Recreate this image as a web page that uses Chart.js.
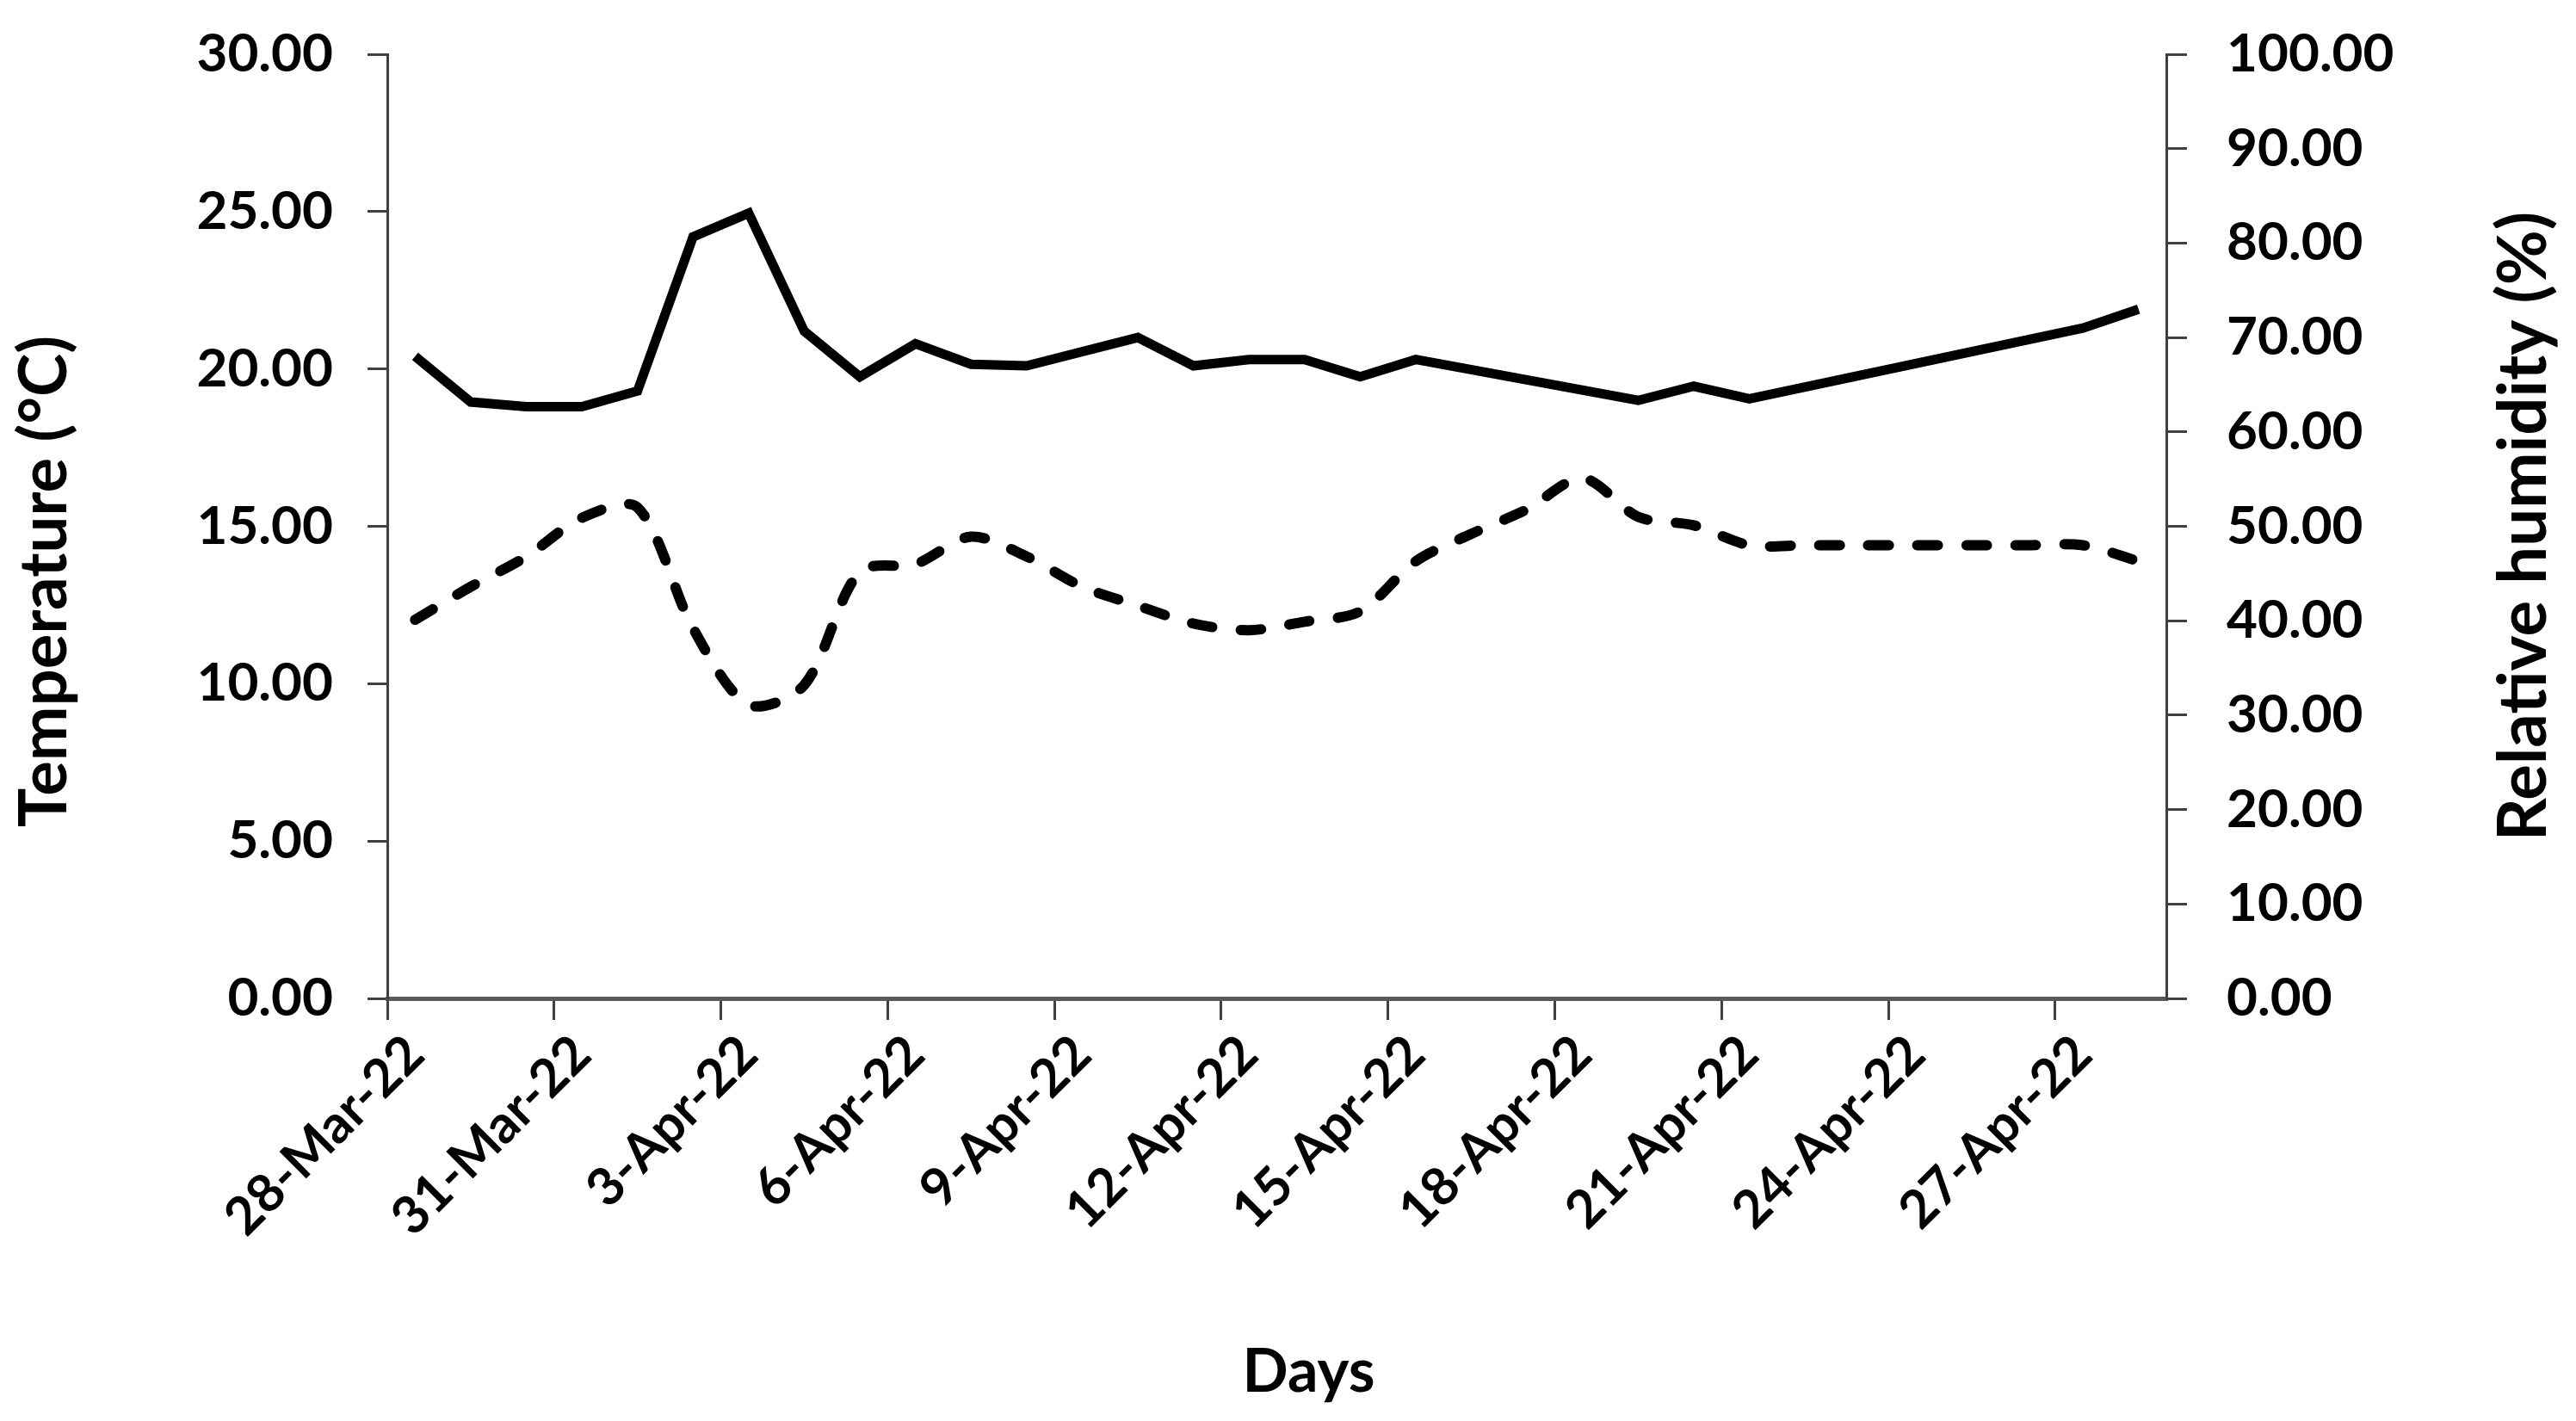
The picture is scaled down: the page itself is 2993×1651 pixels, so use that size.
<!DOCTYPE html>
<html>
<head>
<meta charset="utf-8">
<script src="https://cdn.jsdelivr.net/npm/chart.js@4.4.1/dist/chart.umd.min.js"></script>
<style>
  html, body { margin: 0; padding: 0; background: #fff; }
  #wrap { width: 2993px; height: 1651px; }
</style>
</head>
<body>
<div id="wrap"><canvas id="grafico"></canvas></div>
<script>
// dados -----------------------------------------
var dias = [
  "28-Mar-22", "29-Mar-22", "30-Mar-22", "31-Mar-22",
  "1-Apr-22", "2-Apr-22", "3-Apr-22", "4-Apr-22", "5-Apr-22", "6-Apr-22",
  "7-Apr-22", "8-Apr-22", "9-Apr-22", "10-Apr-22", "11-Apr-22", "12-Apr-22",
  "13-Apr-22", "14-Apr-22", "15-Apr-22", "16-Apr-22", "17-Apr-22", "18-Apr-22",
  "19-Apr-22", "20-Apr-22", "21-Apr-22", "22-Apr-22", "23-Apr-22", "24-Apr-22",
  "25-Apr-22", "26-Apr-22", "27-Apr-22", "28-Apr-22"
];

// temperatura (°C) - null onde a linha segue reta sem vértice
var temperatura = [
  20.4, 18.95, 18.8, 18.8, 19.3, 24.2, 24.95, 21.2, 19.75, 20.8,
  20.15, 20.1, null, 21.0, 20.1, 20.3, 20.3, 19.75, 20.3, null,
  null, null, 19.0, 19.45, 19.05, null, null, null, null, null,
  21.3, 21.9
];

// umidade relativa (%)
var umidade = [
  40.1, 43.6, 46.8, 50.9, 52.0, 39.2, 31.1, 33.2, 45.2, 46.0,
  48.9, 46.8, 43.6, 41.6, 39.7, 39.0, 39.9, 41.0, 46.3, 49.2,
  51.8, 55.1, 51.0, 50.1, 48.0, 48.0, 48.0, 48.0, 48.0, 48.0,
  48.0, 46.3
];

var ticksTemp = { min: 0, max: 30, passo: 5 };
var ticksUmid = { min: 0, max: 100, passo: 10 };

var tituloX = "Days";
var tituloY = "Temperature (°C)";
var tituloY1 = "Relative humidity (%)";

// estilo ---------------------------------------
var fonte = "Lato, 'Open Sans', sans-serif";
var corEixo = "#404040";

// títulos dos eixos desenhados à mão (posição/rotação do original)
function textoGirado(c, texto, x, y, tam) {
  c.save();
  c.fillStyle = "#000";
  c.font = "bold " + tam + "px " + fonte;
  c.textAlign = "center";
  c.textBaseline = "middle";
  c.translate(x, y);
  c.rotate(-Math.PI / 2);
  c.fillText(texto, 0, 0);
  c.restore();
}

var titulosExtras = {
  id: "titulosExtras",
  afterDraw: function (chart) {
    var c = chart.ctx;
    var area = chart.chartArea;
    var meio = (area.top + area.bottom) / 2;

    textoGirado(c, tituloY, chart.scales.y.left + 52, meio + 64, 76);
    textoGirado(c, tituloY1, chart.scales.y1.right - 60, meio, 78);

    c.save();
    c.fillStyle = "#000";
    c.font = "bold 70px " + fonte;
    c.textAlign = "center";
    c.textBaseline = "alphabetic";
    c.fillText(tituloX, (area.left + area.right) / 2 + 37, chart.height - 34);
    c.restore();
  }
};

// sem folga extra do Chart.js acima/abaixo dos eixos verticais
function larguraEixo(w) {
  return function (s) {
    s.width = w;
    s.paddingTop = 0;
    s.paddingBottom = 0;
  };
}

var ctx = document.getElementById("grafico");

new Chart(ctx, {
  type: "line",
  data: {
    labels: dias,
    datasets: [
      {
        label: "Temperature",
        data: temperatura,
        yAxisID: "y",
        borderColor: "#000",
        borderWidth: 11,
        borderJoinStyle: "miter",
        pointRadius: 0,
        tension: 0,
        spanGaps: true
      },
      {
        label: "Relative humidity",
        data: umidade,
        yAxisID: "y1",
        borderColor: "#000",
        borderWidth: 12,
        borderDash: [24, 33],
        borderCapStyle: "round",
        pointRadius: 0,
        tension: 0.3
      }
    ]
  },
  plugins: [titulosExtras],
  options: {
    responsive: true,
    maintainAspectRatio: false,
    animation: false,
    devicePixelRatio: 1,
    layout: { padding: { top: 63, left: 0, right: 0, bottom: 0 } },
    plugins: {
      legend: { display: false },
      tooltip: { enabled: false }
    },
    scales: {
      x: {
        type: "category",
        offset: true,
        afterFit: function (s) { s.height = 491; },
        grid: {
          offset: true,
          drawOnChartArea: false,
          drawTicks: true,
          tickLength: 25,
          lineWidth: 3,
          color: function (c) { return c.index % 3 === 0 ? corEixo : "rgba(0,0,0,0)"; }
        },
        border: { display: true, color: "#595959", width: 5 },
        ticks: {
          autoSkip: false,
          maxRotation: 45,
          minRotation: 45,
          padding: 4,
          color: "#000",
          font: { family: fonte, size: 61, weight: "bold" },
          callback: function (v, i) { return i % 3 === 0 ? dias[i] : ""; }
        },
        title: { display: false }
      },
      y: {
        position: "left",
        min: ticksTemp.min,
        max: ticksTemp.max,
        afterFit: larguraEixo(450),
        grid: {
          drawOnChartArea: false,
          tickLength: 23,
          lineWidth: 3,
          color: corEixo
        },
        border: { display: true, color: corEixo, width: 3 },
        ticks: {
          stepSize: ticksTemp.passo,
          padding: 40,
          color: "#000",
          font: { family: fonte, size: 62, weight: "bold" },
          callback: function (v) { return v.toFixed(2); }
        },
        title: { display: false }
      },
      y1: {
        position: "right",
        min: ticksUmid.min,
        max: ticksUmid.max,
        afterFit: larguraEixo(476),
        grid: {
          drawOnChartArea: false,
          tickLength: 24,
          lineWidth: 3,
          color: corEixo
        },
        border: { display: true, color: corEixo, width: 3 },
        ticks: {
          stepSize: ticksUmid.passo,
          padding: 46,
          color: "#000",
          font: { family: fonte, size: 62, weight: "bold" },
          callback: function (v) { return v.toFixed(2); }
        },
        title: { display: false }
      }
    }
  }
});
</script>
</body>
</html>
